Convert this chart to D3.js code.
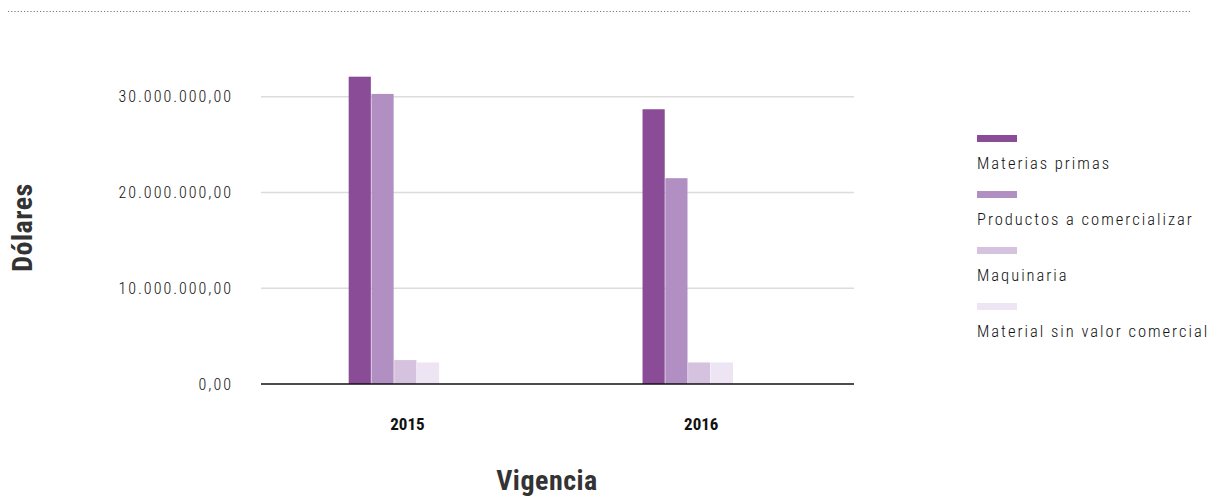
<!DOCTYPE html>
<html>
<head>
<meta charset="utf-8">
<script src="https://cdn.jsdelivr.net/npm/d3@7"></script>
<style>
  html, body { margin: 0; padding: 0; background: #fff; }
  svg { display: block; }
  text { font-family: "Roboto Condensed", "Liberation Sans Narrow", "Roboto", sans-serif; }
</style>
</head>
<body>
<svg id="chart" width="1221" height="498"></svg>
<script>
// Importaciones por vigencia (dólares)
const years = ["2015", "2016"];
const seriesNames = ["Materias primas", "Productos a comercializar", "Maquinaria", "Material sin valor comercial"];
const materiasPrimas = [32100000, 28700000];
const productos = [30300000, 21500000];
const maquinaria = [2500000, 2250000];
const materialSinValor = [2250000, 2250000];
const yTicks = [0, 10000000, 20000000, 30000000];
const colors = ["#8a4c96", "#b28fc3", "#d5c2df", "#ede5f3"];

const seriesValues = [materiasPrimas, productos, maquinaria, materialSinValor];
const rows = years.map((yr, i) => ({ year: yr, values: seriesValues.map(s => s[i]) }));

const svg = d3.select("#chart");
const plot = { left: 261, right: 854, base: 384 };

const y = d3.scaleLinear().domain([0, 30000000]).range([plot.base, 96.8]);
const x0 = d3.scaleBand().domain(years).range([plot.left, plot.right])
  .paddingInner(0.69).paddingOuter(0.354).align(0.42);
const x1 = d3.scaleBand().domain(seriesNames).range([0, x0.bandwidth()]);

const fmt = d3.formatLocale({ decimal: ",", thousands: ".", grouping: [3], currency: ["$", ""] }).format(",.2f");

// Top dotted rule
svg.append("line")
  .attr("x1", 8).attr("x2", 1192).attr("y1", 11.5).attr("y2", 11.5)
  .attr("stroke", "#777").attr("stroke-width", 1.2).attr("stroke-dasharray", "1.2,2");

// Gridlines
svg.append("g").selectAll("line").data(yTicks.filter(d => d > 0)).join("line")
  .attr("x1", plot.left).attr("x2", plot.right)
  .attr("y1", d => y(d)).attr("y2", d => y(d))
  .attr("stroke", "#dcdcdc").attr("stroke-width", 1.4);

// Y tick labels
svg.append("g").selectAll("text").data(yTicks).join("text")
  .attr("x", 233).attr("y", d => y(d)).attr("dy", "0.35em")
  .attr("text-anchor", "end").attr("fill", "#111")
  .attr("font-size", 16).attr("font-weight", 300).attr("letter-spacing", "2px")
  .text(d => fmt(d));

// Bars
const groups = svg.append("g").selectAll("g").data(rows).join("g")
  .attr("transform", d => `translate(${x0(d.year)},0)`);
groups.selectAll("rect").data(d => d.values.map((v, i) => ({ name: seriesNames[i], v, i }))).join("rect")
  .attr("x", d => x1(d.name) + 0.3).attr("width", x1.bandwidth() - 0.6)
  .attr("y", d => y(d.v)).attr("height", d => y(0) - y(d.v))
  .attr("fill", d => colors[d.i]);

// Baseline
svg.append("line")
  .attr("x1", plot.left).attr("x2", plot.right)
  .attr("y1", y(0)).attr("y2", y(0))
  .attr("stroke", "#111").attr("stroke-width", 1.5);

// X labels
svg.append("g").selectAll("text").data(years).join("text")
  .attr("x", d => x0(d) + x0.bandwidth() / 2 + 13.5).attr("y", 430)
  .attr("text-anchor", "middle").attr("font-weight", "bold")
  .attr("font-size", 17).attr("fill", "#111")
  .text(d => d);

// Axis titles
svg.append("text")
  .attr("x", 547).attr("y", 490)
  .attr("text-anchor", "middle").attr("font-weight", "bold")
  .attr("font-size", 28).attr("fill", "#333").attr("letter-spacing", "0.5px")
  .text("Vigencia");
svg.append("text")
  .attr("transform", "translate(31.5,227.5) rotate(-90)")
  .attr("text-anchor", "middle").attr("font-weight", "bold")
  .attr("font-size", 28).attr("fill", "#333").attr("letter-spacing", "0.5px")
  .text("Dólares");

// Legend
const legend = svg.append("g").attr("transform", "translate(977,135)");
const li = legend.selectAll("g").data(seriesNames).join("g")
  .attr("transform", (d, i) => `translate(0,${i * 56})`);
li.append("rect").attr("width", 40).attr("height", 7).attr("fill", (d, i) => colors[i]);
li.append("text").attr("x", 0).attr("y", 34)
  .attr("font-size", 16.5).attr("font-weight", 300).attr("letter-spacing", "2px").attr("fill", "#111")
  .text(d => d);
</script>
</body>
</html>
